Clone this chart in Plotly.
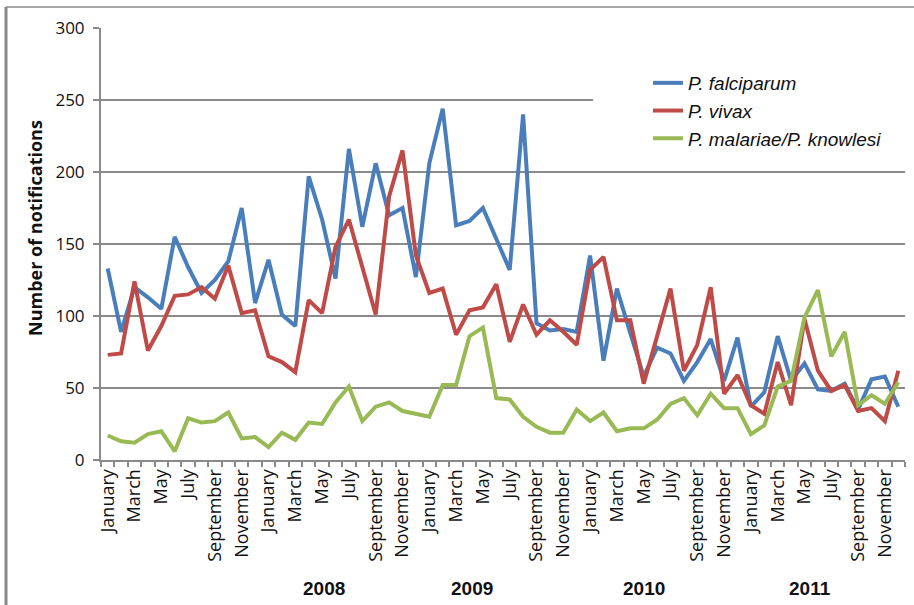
import plotly.graph_objects as go

month_names = ["January", "February", "March", "April", "May", "June", "July",
               "August", "September", "October", "November", "December"]
years = ["2007", "2008", "2009", "2010", "2011"]
year_labels = ["2008", "2009", "2010", "2011"]

falciparum = [133, 89, 120, 113, 105, 155, 134, 116, 125, 138,
              175, 109, 139, 101, 93, 197, 167, 126, 216, 162,
              206, 170, 175, 127, 206, 244, 163, 166, 175, 153,
              132, 240, 95, 90, 91, 89, 142, 69, 119, 88,
              58, 78, 74, 55, 68, 84, 55, 85, 37, 47,
              86, 55, 67, 49, 48, 53, 35, 56, 58, 37]
vivax = [73, 74, 124, 76, 93, 114, 115, 120, 112, 135,
         102, 104, 72, 68, 61, 111, 102, 148, 167, 134,
         101, 183, 215, 142, 116, 119, 87, 104, 106, 122,
         82, 108, 87, 97, 89, 80, 132, 141, 97, 97,
         53, 86, 119, 62, 80, 120, 46, 59, 38, 32,
         68, 38, 98, 62, 48, 52, 34, 36, 27, 62]
malariae_knowlesi = [17, 13, 12, 18, 20, 6, 29, 26, 27, 33,
                     15, 16, 9, 19, 14, 26, 25, 40, 51, 27,
                     37, 40, 34, 32, 30, 52, 52, 86, 92, 43,
                     42, 30, 23, 19, 19, 35, 27, 33, 20, 22,
                     22, 28, 39, 43, 31, 46, 36, 36, 18, 24,
                     51, 55, 99, 118, 72, 89, 38, 45, 39, 54]

categories = [f"{m} {y}" for y in years for m in month_names]
tick_text = [m if i % 2 == 0 else "" for y in years for i, m in enumerate(month_names)]

GRAY = "#8a8a8a"
fig = go.Figure()
series = [("P. falciparum", falciparum, "#4A7EBB"),
          ("P. vivax", vivax, "#BE4B48"),
          ("P. malariae/P. knowlesi", malariae_knowlesi, "#98B954")]
for name, vals, col in series:
    fig.add_trace(go.Scatter(x=categories, y=vals, mode="lines", name=f"<i>{name}</i>",
                             line=dict(color=col, width=4)))

L, R, T, B = 101, 9, 28, 145
W, H = 914, 605
pw, ph = W - L - R, H - T - B

def px_x(p):
    return (p - L) / pw

def px_y(p):
    return (H - B - p) / ph

fig.update_layout(
    width=W, height=H,
    margin=dict(l=L, r=R, t=T, b=B, autoexpand=False),
    paper_bgcolor="white", plot_bgcolor="white",
    showlegend=True,
    legend=dict(x=px_x(648), y=px_y(64), xanchor="left", yanchor="top",
                bgcolor="rgba(0,0,0,0)", borderwidth=0,
                font=dict(family="Liberation Sans, Arial", size=19, color="#111"),
                itemwidth=30, tracegroupgap=0),
    xaxis=dict(type="category", tickmode="array", tickvals=categories, ticktext=tick_text,
               tickangle=-90, tickson="boundaries", ticks="outside", ticklen=5,
               tickcolor=GRAY, tickwidth=1.5, showgrid=False, showline=True,
               linecolor=GRAY, linewidth=2, automargin=False,
               tickfont=dict(family="Open Sans", size=18, color="#111"),
               range=[-0.5, len(categories) - 0.5]),
    yaxis=dict(range=[0, 300], tickvals=[0, 50, 100, 150, 200, 250, 300],
               ticks="outside", ticklen=6, tickcolor=GRAY, tickwidth=1.5,
               showgrid=True, gridcolor=GRAY, gridwidth=2, automargin=False,
               showline=True, linecolor=GRAY, linewidth=2, zeroline=False,
               ticklabelstandoff=5,
               tickfont=dict(family="Open Sans", size=17, color="#111")),
)

annotations = [dict(text="<b>Number of notifications</b>", xref="paper", yref="paper",
                    x=px_x(35), y=px_y(228), textangle=-90, showarrow=False,
                    font=dict(family="Open Sans", size=18, color="#111"),
                    xanchor="center", yanchor="middle")]
year_px = [324, 472, 644, 810]
for lab, xp in zip(year_labels, year_px):
    annotations.append(dict(text=f"<b>{lab}</b>", xref="paper", yref="paper",
                            x=px_x(xp), y=px_y(588), showarrow=False,
                            font=dict(family="Liberation Sans, Arial", size=19, color="#111"),
                            xanchor="center", yanchor="middle"))
fig.update_layout(annotations=annotations)

shapes = [
    # white panel behind legend, hiding gridline as in reference
    dict(type="rect", xref="paper", yref="paper", x0=px_x(593), x1=1.0,
         y0=px_y(150), y1=px_y(70), fillcolor="white", line=dict(width=0), layer="above"),
    # outer frame
    dict(type="line", xref="paper", yref="paper", x0=px_x(6), x1=px_x(914),
         y0=px_y(7), y1=px_y(7), line=dict(color=GRAY, width=1.5)),
    dict(type="line", xref="paper", yref="paper", x0=px_x(6), x1=px_x(6),
         y0=px_y(7), y1=px_y(605), line=dict(color=GRAY, width=3)),
]
fig.update_layout(shapes=shapes)

fig.write_html("out.html",
               config={"displayModeBar": False},
               post_script="document.body.style.margin='0';document.body.style.overflow='hidden';")
